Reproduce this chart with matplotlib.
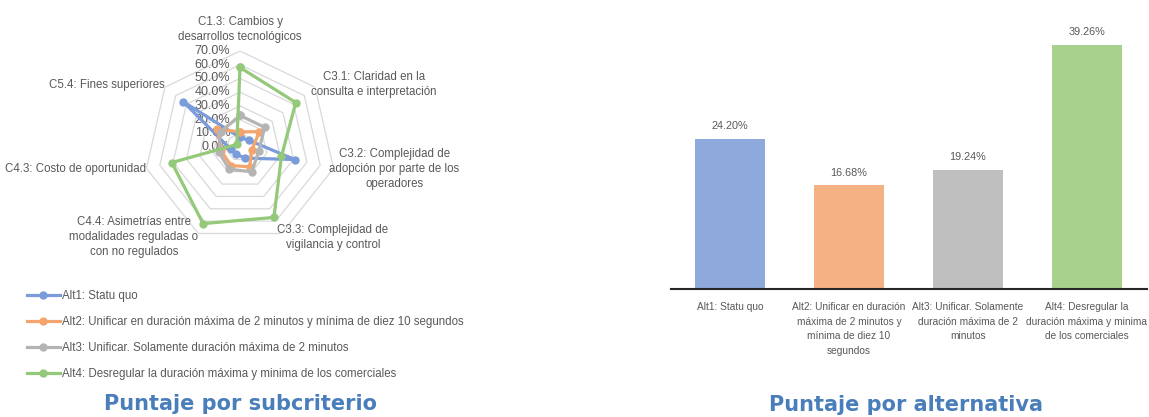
import numpy as np
import matplotlib
matplotlib.use("Agg")
import matplotlib.pyplot as plt

plt.rcParams["font.family"] = ["Liberation Sans", "DejaVu Sans"]

# ---- data ----
criteria = [
    "C1.3: Cambios y\ndesarrollos tecnológicos",
    "C3.1: Claridad en la\nconsulta e interpretación",
    "C3.2: Complejidad de\nadopción por parte de los\noperadores",
    "C3.3: Complejidad de\nvigilancia y control",
    "C4.4: Asimetrías entre\nmodalidades reguladas o\ncon no regulados",
    "C4.3: Costo de oportunidad",
    "C5.4: Fines superiores",
]
alt_names = [
    "Alt1: Statu quo",
    "Alt2: Unificar en duración máxima de 2 minutos y mínima de diez 10 segundos",
    "Alt3: Unificar. Solamente duración máxima de 2 minutos",
    "Alt4: Desregular la duración máxima y minima de los comerciales",
]
alt1 = [0.07, 0.08, 0.41, 0.09, 0.06, 0.07, 0.53]
alt2 = [0.11, 0.18, 0.09, 0.16, 0.15, 0.14, 0.21]
alt3 = [0.23, 0.23, 0.14, 0.20, 0.18, 0.16, 0.18]
alt4 = [0.58, 0.52, 0.31, 0.57, 0.62, 0.51, 0.03]
radar_ticks = [0.0, 0.1, 0.2, 0.3, 0.4, 0.5, 0.6, 0.7]

bar_labels = [
    "Alt1: Statu quo",
    "Alt2: Unificar en duración\nmáxima de 2 minutos y\nmínima de diez 10\nsegundos",
    "Alt3: Unificar. Solamente\nduración máxima de 2\nminutos",
    "Alt4: Desregular la\nduración máxima y minima\nde los comerciales",
]
bar_values = [0.2420, 0.1668, 0.1924, 0.3926]

line_colors = ["#7A9CDA", "#F4A56E", "#B4B4B4", "#94C97A"]
bar_colors = ["#8EA9DB", "#F4B183", "#BFBFBF", "#A9D18E"]
TXT = "#595959"
TITLE = "#4A7EBB"
FS = 8.3

W, H = 1149, 417
fig = plt.figure(figsize=(W / 100, H / 100), dpi=100)

# ---- radar ----
cx, cy, R = 240, 147, 96
ax = fig.add_axes([(cx - R) / W, (H - cy - R) / H, 2 * R / W, 2 * R / H], projection="polar")
ax.set_theta_zero_location("N")
ax.set_theta_direction(-1)
ax.set_ylim(0, radar_ticks[-1])
ax.grid(False)
ax.spines["polar"].set_visible(False)
ax.set_xticks([])
ax.set_yticks([])
ax.patch.set_alpha(0)

n = len(criteria)
ang = np.linspace(0, 2 * np.pi, n, endpoint=False)
ang_c = np.append(ang, ang[0])
for r in radar_ticks[1:]:
    ax.plot(ang_c, [r] * (n + 1), color="#D9D9D9", lw=0.9, zorder=1)
for r in radar_ticks:
    ax.annotate(f"{r * 100:.1f}%", (0, r), xytext=(-7, 0), textcoords="offset points",
                ha="right", va="center", fontsize=9, color=TXT, zorder=2)

for vals, col, name in zip([alt1, alt2, alt3, alt4], line_colors, alt_names):
    v = np.append(vals, vals[0])
    ax.plot(ang_c, v, color=col, lw=2.3, marker="o", markersize=5, label=name, zorder=3)

for a, lab in zip(ang, criteria):
    s, c = np.sin(a), np.cos(a)
    if abs(s) < 0.1:
        ax.text(a, 0.755, lab, ha="center", va="bottom", multialignment="center",
                fontsize=FS, color=TXT, linespacing=1.35)
    else:
        ax.annotate(lab, (a, 0.7), xytext=(-3 if s > 0 else 0, 3 * c), textcoords="offset points",
                    ha="left" if s > 0 else "right", va="center", multialignment="center",
                    fontsize=FS, color=TXT, linespacing=1.35)

fig.legend(loc="upper left", bbox_to_anchor=(27 / W, 1 - 290 / H), frameon=False,
           borderpad=0, borderaxespad=0, fontsize=FS, handlelength=2.85,
           handletextpad=0.2, labelspacing=1.22, labelcolor=TXT)

fig.text(240 / W, 1 - 404 / H, "Puntaje por subcriterio", ha="center", va="center",
         fontsize=15, fontweight="bold", color=TITLE, family="DejaVu Sans")

# ---- bars ----
y0 = 289.3
ymax = 0.45
ph = 622.5 * ymax
bx = fig.add_axes([670.5 / W, (H - y0) / H, 476 / W, ph / H])
x = np.arange(len(bar_values))
bx.bar(x, bar_values, width=0.58, color=bar_colors)
bx.set_xlim(-0.5, len(bar_values) - 0.5)
bx.set_ylim(0, ymax)
for xi, v in zip(x, bar_values):
    bx.annotate(f"{v * 100:.2f}%", (xi, v), xytext=(0, 5.5), textcoords="offset points",
                ha="center", va="bottom", fontsize=7.8, color=TXT)
bx.set_xticks(x)
bx.set_xticklabels(bar_labels, fontsize=7.3, color=TXT, linespacing=1.6)
bx.tick_params(axis="x", length=0, pad=9)
bx.set_yticks([])
for side in ["top", "right", "left"]:
    bx.spines[side].set_visible(False)
bx.spines["bottom"].set_color("#262626")
bx.spines["bottom"].set_linewidth(1.5)
bx.patch.set_alpha(0)

fig.text(906 / W, 1 - 405 / H, "Puntaje por alternativa", ha="center", va="center",
         fontsize=15, fontweight="bold", color=TITLE, family="DejaVu Sans")

fig.savefig("out.png", dpi=100, facecolor="white")
